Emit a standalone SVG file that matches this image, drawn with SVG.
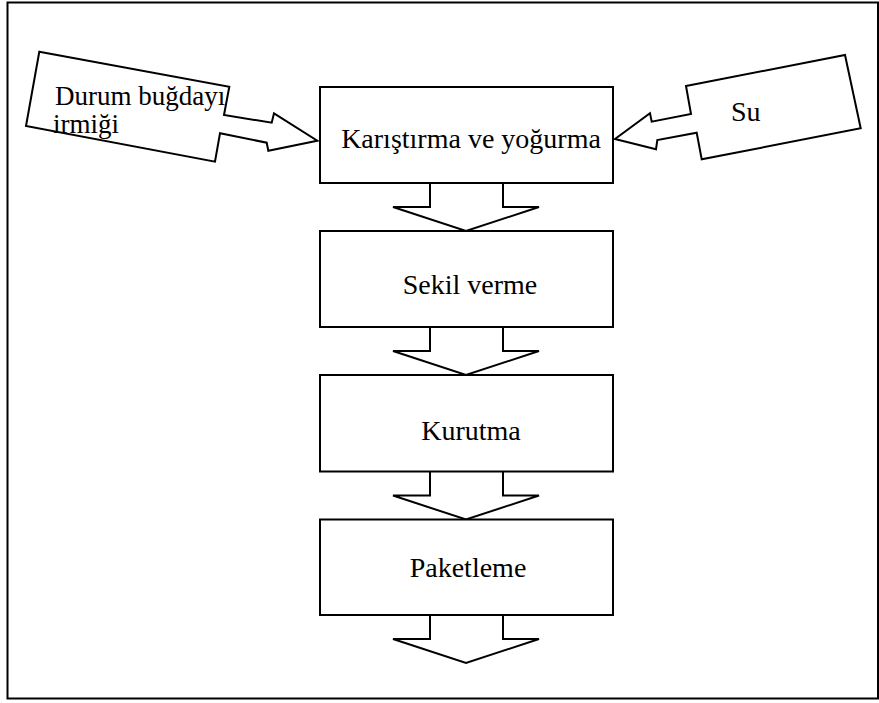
<svg xmlns="http://www.w3.org/2000/svg" width="879" height="703" viewBox="0 0 879 703">
  <style>
    .shape { fill: #ffffff; stroke: #000000; stroke-width: 2; stroke-linejoin: miter; }
    .frame { fill: none; stroke: #000000; stroke-width: 2; }
    .label { font-family: "Liberation Serif", "Times New Roman", serif; font-size: 28px; fill: #000000; }
    .small { font-size: 27px; }
    .mid { text-anchor: middle; }
  </style>

  <rect width="879" height="703" fill="#ffffff"/>

  <!-- outer page frame -->
  <g id="frame">
    <rect class="frame" x="7.5" y="2.5" width="870.5" height="696"/>
  </g>

  <!-- block arrows linking one step to the next -->
  <g id="connectors">
    <path class="shape" d="M430,183 V207 H393 L466,231 L539,207 H503 V183"/>
    <path class="shape" d="M430,327 V351 H393 L466,375 L539,351 H503 V327"/>
    <path class="shape" d="M430,471.5 V495.5 H393 L466,519.5 L539,495.5 H503 V471.5"/>
    <path class="shape" d="M430,615 V639 H393 L466,663 L539,639 H503 V615"/>
  </g>

  <!-- raw material input: semolina -->
  <g id="input-semolina">
    <path class="shape" d="M39.3,51.7 L229.3,86.7 L224,115 L271.7,122.7 L274,113.3 L317.3,140.7 L268.3,150.7 L266.7,142.7 L220,133.3 L215,161.7 L26,126 Z"/>
    <text class="label small" x="55" y="105">Durum buğdayı</text>
    <text class="label small" x="53" y="133">irmiği</text>
  </g>

  <!-- raw material input: water -->
  <g id="input-water">
    <path class="shape" d="M686,86 L845,55 L860.7,128.3 L701.7,159.3 L696.7,132.7 L657.3,140 L656,149.3 L615,139 L650,113.3 L651.7,121.7 L691,114 Z"/>
    <text class="label" x="731" y="121">Su</text>
  </g>

  <!-- process steps -->
  <g id="step-mix">
    <rect class="shape" x="320" y="87" width="293" height="96"/>
    <text class="label mid" x="471" y="148">Karıştırma ve yoğurma</text>
  </g>

  <g id="step-shape">
    <rect class="shape" x="320" y="231" width="293" height="96"/>
    <text class="label mid" x="470" y="294">Sekil verme</text>
  </g>

  <g id="step-dry">
    <rect class="shape" x="320" y="375" width="293" height="96.5"/>
    <text class="label mid" x="471" y="440">Kurutma</text>
  </g>

  <g id="step-pack">
    <rect class="shape" x="320" y="519.5" width="293" height="95.5"/>
    <text class="label mid" x="468" y="577">Paketleme</text>
  </g>
</svg>
